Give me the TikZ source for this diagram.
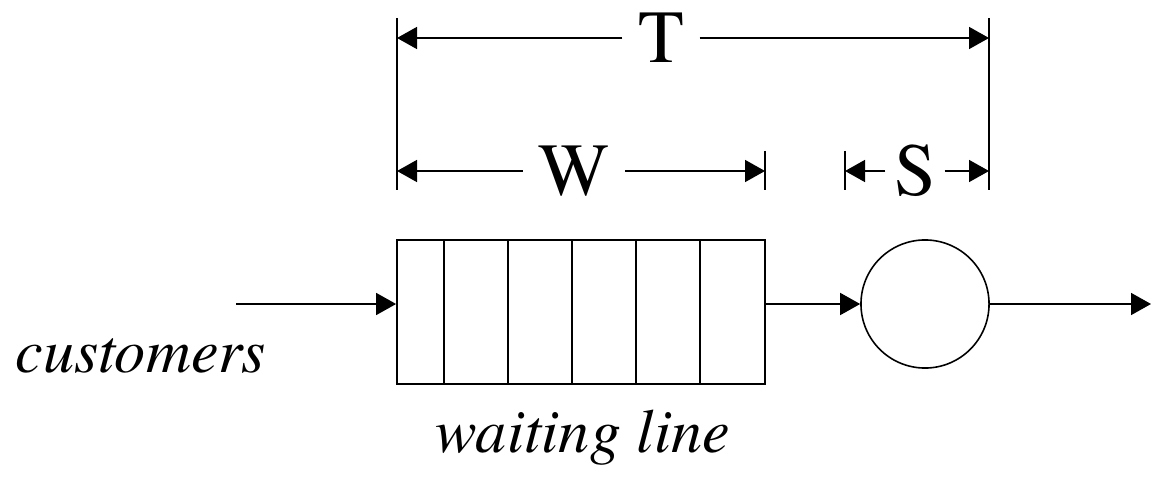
\documentclass[tikz,border=0pt]{standalone}
\usepackage{fontspec}
\setmainfont{TeX Gyre Termes}
\usetikzlibrary{arrows.meta,positioning}

\begin{document}
\begin{tikzpicture}[
  x=0.01cm, y=-0.01cm,
  line width=0.45pt,
  font=\fontsize{21.3}{25}\selectfont,
  arr/.style={-{Triangle[length=2mm,width=2.2mm]}},
  dimlbl/.style={inner xsep=0.15cm, inner ysep=0pt},
  lbl/.style={font=\fontsize{17.7}{21}\selectfont\itshape, anchor=base, inner sep=0pt}
]
\useasboundingbox (0,0) rectangle (1152,482);

\node[draw, minimum width=3.68cm, minimum height=1.44cm, inner sep=0pt] (queue) at (581,312) {};
\foreach \x in {48,112,176,240,304}
  \draw ([xshift=\x*0.01cm]queue.north west) -- ([xshift=\x*0.01cm]queue.south west);
\node[circle, draw, minimum size=1.28cm, inner sep=0pt] (srv) at (925,304) {};

\coordinate (src) at (236,304);
\coordinate (sink) at (1151,304);
\draw[arr] (src) -- (src -| queue.west);
\draw[arr] (srv -| queue.east) -- (srv);
\draw[arr] (srv) -- (sink);

\node[lbl] (cust) at (141,372) {customers};
\node[lbl] (wline) at (583,452) {waiting line};

% dimension lines
\draw (397,18) -- (397,190);
\draw (989,18) -- (989,190);
\draw (765,151) -- (765,190);
\draw (845,151) -- (845,190);

\coordinate (tA) at (397,38);
\coordinate (tB) at (989,38);
\coordinate (wA) at (397,171);
\coordinate (wB) at (765,171);
\coordinate (sA) at (845,171);
\coordinate (sB) at (989,171);

\node[dimlbl] (T) at (661,38) {T};
\node[dimlbl] (W) at (574,171) {W};
\node[dimlbl, inner xsep=0.08cm] (S) at (915,171) {S};

\draw[arr] (T) -- (tA);
\draw[arr] (T) -- (tB);
\draw[arr] (W) -- (wA);
\draw[arr] (W) -- (wB);
\draw[arr] (S) -- (sA);
\draw[arr] (S) -- (sB);
\end{tikzpicture}
\end{document}
